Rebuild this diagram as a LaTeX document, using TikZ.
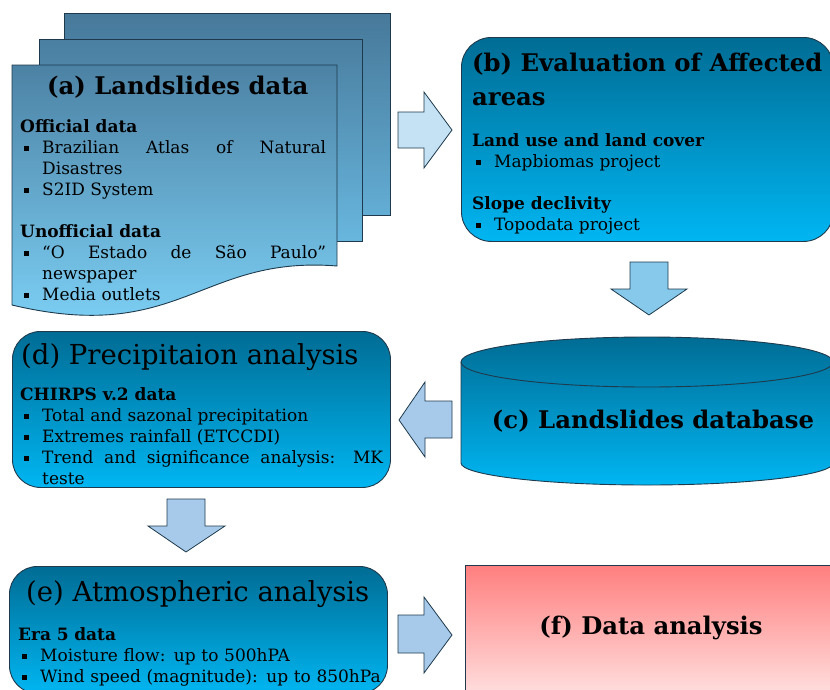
\documentclass[tikz,border=0pt]{standalone}
\usepackage{fontspec}
\setmainfont{DejaVu Serif}
\usetikzlibrary{calc,positioning,shapes.geometric}
\definecolor{edge}{HTML}{1E3A4C}
\definecolor{deeptop}{HTML}{006C94}
\definecolor{deepbot}{HTML}{00B6F2}
\definecolor{sheettop}{HTML}{47799A}
\definecolor{sheetmid}{HTML}{68B6DE}
\definecolor{sheetbot}{HTML}{80D5FB}
\definecolor{pinktop}{HTML}{FF7F7F}
\definecolor{pinkbot}{HTML}{FFE6E6}
\definecolor{arrowpale}{HTML}{C4E2F4}
\definecolor{arrowmid}{HTML}{87C9EB}
\definecolor{arrowsoft}{HTML}{A8CAEA}
\newcommand{\headfont}{\fontsize{24.3}{34}\selectfont\bfseries}
\newcommand{\headlight}{\fontsize{27.5}{34}\selectfont}
\newcommand{\bodyfont}{\fontsize{17}{21}\selectfont}
\newcommand{\bitem}[1]{\par\hangindent=22pt\hangafter=1\noindent
  \makebox[22pt][l]{\hspace{4pt}\rule[0.25ex]{4.5pt}{4.5pt}}#1\par}
\tikzset{
  sheet/.style={draw=edge,line width=.9pt},
  panel/.style={draw=edge,line width=.9pt,rounded corners=28pt,
    top color=deeptop,bottom color=deepbot,anchor=north west,inner sep=0pt},
  blockarrow/.style={draw=edge,line width=.8pt,line join=miter},
  headtext/.style={inner sep=0pt,font=\headfont},
  listtext/.style={inner sep=0pt,anchor=north west,font=\bodyfont,align=justify}}
\begin{document}
\begin{tikzpicture}[x=1pt,y=-1pt]
\useasboundingbox (0,0) rectangle (830,689);
\clip (0,0) rectangle (830,689);
% stacked landslide sheets
\draw[sheet,top color=sheettop,bottom color=sheetmid!85!sheettop] (64,13) rectangle (390,215);
\draw[sheet,top color=sheettop!90!sheetmid,bottom color=sheetmid] (39,39) rectangle (362,241);
\draw[sheet,top color=sheettop!85!sheetmid,bottom color=sheetbot] (12,65) -- (337,65) -- (337,266)
  .. controls (200,255) and (180,345) .. (12,305) -- cycle;
\node[headtext,anchor=west] (atitle) at (47,87) {(a) Landslides data};
\node[listtext,text width=306pt] (alist) at (20,119) {%
  \textbf{Official data}
  \bitem{Brazilian Atlas of Natural\linebreak Disastres}
  \bitem{S2ID System}
  \vspace{21pt}\noindent\textbf{Unofficial data}
  \bitem{“O Estado de São Paulo”\linebreak newspaper}
  \bitem{Media outlets}};
% affected areas
\node[panel,minimum width=372pt,minimum height=204pt,rounded corners=30pt] (boxb) at (461,37) {};
\node[headtext,anchor=north west,align=left] (btitle) at (472,53) {(b) Evaluation of Affected\\areas};
\node[listtext,text width=340pt] (blist) at (472,133) {%
  \textbf{Land use and land cover}
  \bitem{Mapbiomas project}
  \vspace{21pt}\noindent\textbf{Slope declivity}
  \bitem{Topodata project}};
% database cylinder
\draw[sheet,top color=deeptop,bottom color=deepbot] (461,362) -- (461,463)
  arc[start angle=180,end angle=360,x radius=186pt,y radius=22pt] -- (833,362)
  arc[start angle=0,end angle=180,x radius=186pt,y radius=25pt] -- cycle;
\draw[sheet] (461,362) arc[start angle=180,end angle=360,x radius=186pt,y radius=25pt];
\node[headtext] (ctitle) at (653,421) {(c) Landslides database};
% precipitation
\node[panel,minimum width=378pt,minimum height=156pt] (boxd) at (12,331) {};
\node[headtext,font=\headlight,anchor=west] (dtitle) at (21,357) {(d) Precipitaion analysis};
\node[listtext,text width=363pt] (dlist) at (20,387) {%
  \textbf{CHIRPS v.2 data}
  \bitem{Total and sazonal precipitation}
  \bitem{Extremes rainfall (ETCCDI)}
  \bitem{Trend and significance analysis: MK\linebreak teste}};
% atmospheric
\node[panel,minimum width=378pt,minimum height=127pt] (boxe) at (9,566) {};
\node[headtext,font=\headlight,anchor=west] (etitle) at (26,594) {(e) Atmospheric analysis};
\node[listtext,text width=370pt,align=left] (elist) at (18,627) {%
  \textbf{Era 5 data}
  \bitem{Moisture flow: up to 500hPA}
  \bitem{Wind speed (magnitude): up to 850hPa}};
% data analysis
\node[draw=edge,line width=.9pt,top color=pinktop,bottom color=pinkbot,anchor=north west,
  minimum width=380pt,minimum height=140pt] (boxf) at (465,565) {};
\node[headtext] (ftitle) at (651,628) {(f) Data analysis};
% block arrows
\draw[blockarrow,fill=arrowpale] (398,112) -- (424,112) -- (424,92) -- (452,130)
  -- (424,168) -- (424,148) -- (398,148) -- cycle;
\draw[blockarrow,fill=arrowmid] (630,262) -- (668,262) -- (668,289) -- (687,289)
  -- (649,315) -- (611,289) -- (630,289) -- cycle;
\draw[blockarrow,fill=arrowsoft] (452,401) -- (425,401) -- (425,382) -- (399,420)
  -- (425,457) -- (425,438) -- (452,438) -- cycle;
\draw[blockarrow,fill=arrowsoft] (167,499) -- (205,499) -- (205,526) -- (225,526)
  -- (186,552) -- (148,526) -- (167,526) -- cycle;
\draw[blockarrow,fill=arrowsoft] (398,615) -- (424,615) -- (424,597) -- (452,635)
  -- (424,673) -- (424,653) -- (398,653) -- cycle;
\end{tikzpicture}
\end{document}
